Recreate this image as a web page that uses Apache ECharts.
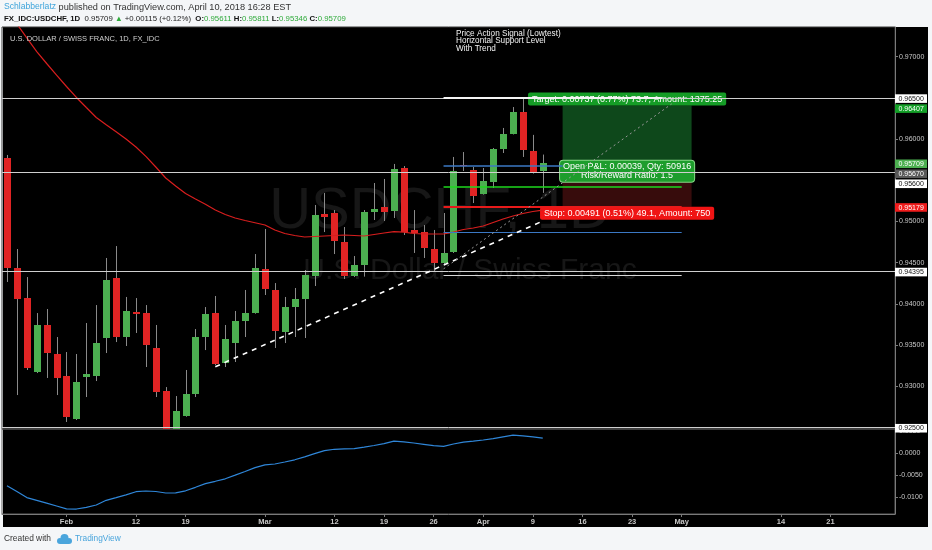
<!DOCTYPE html>
<html><head><meta charset="utf-8">
<script src="https://cdn.jsdelivr.net/npm/echarts@6/dist/echarts.min.js"></script>
<style>
html,body{margin:0;padding:0;background:#f4f6f8;}
#wrap{position:relative;width:932px;height:550px;overflow:hidden;}
#panel{position:absolute;left:3px;top:27px;width:925px;height:500px;background:#000;}
#c{position:absolute;left:0;top:0;width:932px;height:550px;}
</style>
</head><body><div id="wrap"><div id="panel"></div><div id="c"></div></div>
<script>
// ---------- data ----------
const dates = ['01-24','01-25','01-26','01-29','01-30','01-31',
'02-01','02-02','02-05','02-06','02-07','02-08','02-09','02-12','02-13','02-14','02-15','02-16','02-19','02-20','02-21','02-22','02-23','02-26','02-27','02-28',
'03-01','03-02','03-05','03-06','03-07','03-08','03-09','03-12','03-13','03-14','03-15','03-16','03-19','03-20','03-21','03-22','03-23','03-26','03-27','03-28','03-29','03-30',
'04-02','04-03','04-04','04-05','04-06','04-09','04-10','04-11','04-12','04-13','04-16','04-17','04-18','04-19','04-20','04-23','04-24','04-25','04-26','04-27','04-30',
'05-01','05-02','05-03','05-04','05-07','05-08','05-09','05-10','05-11','05-14','05-15','05-16','05-17','05-18','05-21','05-22','05-23','05-24','05-25','05-28','05-29'];

const openP = [0.95769,0.94434,0.94070,0.93172,0.93743,0.93391,0.93124,0.92602,0.93112,0.93124,
0.93585,0.94313,0.93597,0.93900,0.93888,0.93464,0.92942,0.92150,0.92638,0.92905,
0.93597,0.93888,0.93282,0.93524,0.93791,0.93888,0.94422,0.94168,0.93658,0.93961,
0.94058,0.94337,0.95090,0.95102,0.94750,0.94337,0.94471,0.95114,0.95175,0.95126,
0.95648,0.94896,0.94871,0.94665,0.94495,0.94629,0.95685,0.95624,0.95333,0.95478,
0.95879,0.96061,0.96328,0.95854,0.95611];
const closeP = [0.94434,0.94058,0.93221,0.93743,0.93403,0.93100,0.92626,0.93051,0.93148,0.93524,
0.94289,0.93597,0.93913,0.93876,0.93500,0.92930,0.92150,0.92699,0.92905,0.93597,
0.93876,0.93269,0.93573,0.93791,0.93888,0.94434,0.94180,0.93670,0.93961,0.94058,
0.94350,0.95078,0.95053,0.94762,0.94337,0.94471,0.95114,0.95151,0.95114,0.95636,
0.94871,0.94859,0.94677,0.94495,0.94617,0.95612,0.95672,0.95308,0.95490,0.95879,
0.96061,0.96328,0.95867,0.95594,0.95709];
const lowP = [0.94265,0.92893,0.93197,0.93160,0.93100,0.92893,0.92566,0.92590,0.92869,0.93063,
0.93403,0.93536,0.93488,0.93646,0.93233,0.92869,0.91880,0.91960,0.92630,0.92869,
0.93439,0.93257,0.93233,0.93294,0.93597,0.93880,0.94107,0.93464,0.93524,0.93597,
0.93585,0.94216,0.94871,0.94604,0.94301,0.94325,0.94330,0.95017,0.95005,0.95041,
0.94835,0.94617,0.94556,0.94386,0.94471,0.94617,0.95612,0.95223,0.95325,0.95405,
0.95830,0.96055,0.95782,0.95580,0.95346];
const highP = [0.95806,0.94665,0.94325,0.93888,0.93937,0.93597,0.93415,0.93391,0.93767,0.93985,
0.94556,0.94701,0.94083,0.94070,0.93985,0.93743,0.92990,0.92881,0.93197,0.93694,
0.93961,0.94095,0.93743,0.93913,0.94168,0.94604,0.94908,0.94252,0.94083,0.94192,
0.94410,0.95199,0.95345,0.95138,0.94932,0.94580,0.95138,0.95466,0.95515,0.95697,
0.95672,0.95138,0.94956,0.94896,0.95102,0.95782,0.95842,0.95660,0.95648,0.95891,
0.96134,0.96388,0.96485,0.96050,0.95811];

const movingAvg = [0.97578,0.97396,0.97226,0.97060,0.96916,0.96774,0.96637,0.96504,0.96382,0.96261,
0.96174,0.96089,0.96000,0.95903,0.95789,0.95660,0.95527,0.95430,0.95339,0.95272,
0.95209,0.95138,0.95084,0.95041,0.95011,0.94984,0.94956,0.94896,0.94853,0.94829,
0.94811,0.94817,0.94823,0.94829,0.94835,0.94829,0.94823,0.94841,0.94859,0.94877,
0.94871,0.94853,0.94847,0.94847,0.94847,0.94871,0.94902,0.94920,0.94944,0.94987,
0.95029,0.95066,0.95096,0.95120,0.95138];

const oscillator = [-0.00743,-0.00878,-0.01016,-0.01080,-0.01144,-0.01209,-0.01275,-0.01278,-0.01239,-0.01186,
-0.01078,-0.01016,-0.00952,-0.00881,-0.00865,-0.00876,-0.00911,-0.00906,-0.00860,-0.00780,
-0.00695,-0.00642,-0.00585,-0.00502,-0.00417,-0.00330,-0.00264,-0.00245,-0.00200,-0.00149,
-0.00083,-0.00007,0.00062,0.00092,0.00099,0.00106,0.00142,0.00179,0.00220,0.00280,
0.00261,0.00236,0.00206,0.00177,0.00158,0.00213,0.00255,0.00278,0.00305,0.00337,
0.00378,0.00417,0.00399,0.00378,0.00346];

const tickDates  = ['02-01','02-12','02-19','03-01','03-12','03-19','03-26','04-02','04-09','04-16','04-23','04-30','05-14','05-21'];
const tickLabels = ['Feb','12','19','Mar','12','19','26','Apr','9','16','23','May','14','21'];
const priceTicks = [0.93,0.935,0.94,0.945,0.95,0.96,0.97];
const oscTicks = [0.005,0,-0.005,-0.01];

// drawings
const fullLevels = [0.965, 0.956, 0.94395, 0.925];
const entryLevel = 0.9567, targetLevel = 0.96407, stopLevel = 0.95179;
const greenLevel = 0.95421, blueLowLevel = 0.94863, whiteSegLevel = 0.9435;
const trendStart = ['02-22', 0.93237], trendEnd = ['04-10', 0.95005];
const dotStart = ['03-27', 0.94424], dotEnd = ['04-27', 0.96427];
const drawStart = '03-27', drawEnd = '04-30', entryEnd = '04-12', whiteTopEnd = '04-26';
const zoneStart = '04-12', zoneEnd = '05-01';
const axisMarkPrices = [0.965, 0.96407, 0.95709, 0.9567, 0.956, 0.95179, 0.94395, 0.925];
const axisMarkFill = ['#ffffff','#14a028','#4caf50','#595959','#ffffff','#f01c1c','#ffffff','#ffffff'];
const axisMarkInk  = ['#111','#fff','#fff','#fff','#111','#fff','#111','#111'];

const targetText = 'Target: 0.00737 (0.77%) 73.7, Amount: 1375.25';
const stopText = 'Stop: 0.00491 (0.51%) 49.1, Amount: 750';
const pnlText = 'Open P&L: 0.00039, Qty: 50916\nRisk/Reward Ratio: 1.5';

// ---------- chart ----------
const FONT = '"Liberation Sans", Arial, sans-serif';
const UP = '#4caf50', DOWN = '#e02424', WICK = '#8a8a8a';
const chart = echarts.init(document.getElementById('c'));
const candleData = openP.map((o,i)=>[i,o,closeP[i],lowP[i],highP[i]]);
const tickFn = (idx, val) => tickDates.indexOf(val) >= 0;

function renderCandle(params, api){
  const i = api.value(0), o = api.value(1), c = api.value(2), l = api.value(3), h = api.value(4);
  const pO = api.coord([i,o]), pC = api.coord([i,c]), pL = api.coord([i,l]), pH = api.coord([i,h]);
  const cx = Math.round(pO[0]);
  const top = Math.round(Math.min(pO[1],pC[1]));
  const bot = Math.round(Math.max(pO[1],pC[1]));
  return {type:'group', children:[
    {type:'line', shape:{x1:cx+0.5,y1:pH[1],x2:cx+0.5,y2:pL[1]}, style:{stroke:WICK,lineWidth:1}},
    {type:'rect', shape:{x:cx-3, y:top, width:7, height:Math.max(1,bot-top)}, style:{fill: c>=o?UP:DOWN}}
  ]};
}

function renderAxisMark(params, api){
  const k = params.dataIndex;
  let prev = -Infinity;
  for (let j=0;j<=k;j++){
    let y = api.coord([0, axisMarkPrices[j]])[1] + 0.8;
    if (y < prev + 10) y = prev + 10;
    prev = y;
  }
  const y = prev;
  const cs = params.coordSys;
  const x0 = cs.x + cs.width;
  return {type:'group', children:[
    {type:'rect', shape:{x:x0, y:y-4.3, width:32, height:8.6}, style:{fill:axisMarkFill[k]}},
    {type:'text', style:{x:x0+3.5, y:y+0.3, text:axisMarkPrices[k].toFixed(5), fill:axisMarkInk[k],
      fontSize:7, fontFamily:FONT, align:'left', verticalAlign:'middle'}}
  ]};
}

const ls = (color, width, type) => ({color, width, type: type||'solid', opacity:1});
const seg = (a, b, style) => [{coord:a, lineStyle:style}, {coord:b, lineStyle:style}];

const last = openP.length-1;
const chg = closeP[last]-closeP[last-1];
const header2 = '{b|FX_IDC:USDCHF, 1D}  ' + closeP[last].toFixed(5) + ' {g|\u25B2} +' + chg.toFixed(5) +
  ' (+' + (chg/closeP[last-1]*100).toFixed(2) + '%)  {b|O:}{g|' + openP[last].toFixed(5) + '} {b|H:}{g|' + highP[last].toFixed(5) +
  '} {b|L:}{g|' + lowP[last].toFixed(5) + '} {b|C:}{g|' + closeP[last].toFixed(5) + '}';

const option = {
  backgroundColor: 'transparent',
  animation: false,
  grid: [
    {left:2, width:893, top:27, height:402, show:true, borderColor:'#3a3a3a', borderWidth:1, backgroundColor:'transparent'},
    {left:2, width:893, top:429, height:85, show:true, borderColor:'#5e5e5e', borderWidth:1, backgroundColor:'transparent'}
  ],
  xAxis: [
    {type:'category', gridIndex:0, data:dates, boundaryGap:true, axisLine:{show:false, onZero:false}, axisTick:{show:false}, axisLabel:{show:false}, splitLine:{show:false}},
    {type:'category', gridIndex:1, data:dates, boundaryGap:true, position:'bottom',
      axisLine:{show:true, onZero:false, lineStyle:{color:'#7a7a7a'}},
      axisTick:{show:true, interval:tickFn, alignWithLabel:true, length:3, lineStyle:{color:'#7a7a7a'}},
      axisLabel:{interval:tickFn, formatter:(v)=>tickLabels[tickDates.indexOf(v)], color:'#c6c6c6', fontSize:7.5, fontWeight:'bold', fontFamily:FONT, margin:4},
      splitLine:{show:false}}
  ],
  yAxis: [
    {type:'value', gridIndex:0, position:'right', min:0.92481, max:0.97359, splitLine:{show:false},
      axisLine:{show:true, lineStyle:{color:'#7a7a7a'}},
      axisTick:{show:true, length:3, customValues:priceTicks, lineStyle:{color:'#7a7a7a'}},
      axisLabel:{customValues:priceTicks, formatter:(v)=>v.toFixed(5), color:'#c8c8c8', fontSize:7, fontFamily:FONT, margin:4}},
    {type:'value', gridIndex:1, position:'right', min:-0.01392, max:0.00557, splitLine:{show:false},
      axisLine:{show:true, lineStyle:{color:'#7a7a7a'}},
      axisTick:{show:true, length:3, customValues:oscTicks, lineStyle:{color:'#7a7a7a'}},
      axisLabel:{customValues:oscTicks, formatter:(v)=>v.toFixed(4), color:'#c8c8c8', fontSize:7, fontFamily:FONT, margin:4}}
  ],
  graphic: [
    {type:'text', x:440, y:212, z:0, silent:true, style:{text:'USDCHF, 1D', align:'center', verticalAlign:'middle', fill:'#171717', fontSize:58, fontFamily:FONT}},
    {type:'text', x:470, y:271, z:0, silent:true, style:{text:'U.S. Dollar / Swiss Franc', align:'center', verticalAlign:'middle', fill:'#171717', fontSize:30, fontFamily:FONT}},
    {type:'text', x:4, y:7, z:50, style:{text:'{a|Schlabberlatz} published on TradingView.com, April 10, 2018 16:28 EST', verticalAlign:'middle', fill:'#333', fontSize:9.2, fontFamily:FONT,
      rich:{a:{fill:'#3da4db', fontSize:8.6, fontFamily:FONT}}}},
    {type:'text', x:4, y:19, z:50, style:{text:header2, verticalAlign:'middle', fill:'#222', fontSize:7.8, fontFamily:FONT,
      rich:{b:{fill:'#111', fontWeight:'bold', fontSize:7.8, fontFamily:FONT}, g:{fill:'#2eaa3a', fontSize:7.8, fontFamily:FONT}}}},
    {type:'text', x:10, y:39, z:50, style:{text:'U.S. DOLLAR / SWISS FRANC, 1D, FX_IDC', verticalAlign:'middle', fill:'#cfcfcf', fontSize:7.5, fontFamily:FONT}},
    {type:'text', x:456, y:29.5, z:50, style:{text:'Price Action Signal (Lowtest)\nHorizontal Support Level\nWith Trend', verticalAlign:'top', fill:'#f2f2f2', fontSize:8.2, lineHeight:7.5, fontFamily:FONT}},
    {type:'text', x:4, y:539, z:50, style:{text:'Created with', verticalAlign:'middle', fill:'#333', fontSize:8.4, fontFamily:FONT}},
    {type:'circle', z:50, shape:{cx:60, cy:541, r:3}, style:{fill:'#4aa5dc'}},
    {type:'circle', z:50, shape:{cx:64.5, cy:538, r:4}, style:{fill:'#4aa5dc'}},
    {type:'circle', z:50, shape:{cx:69, cy:541, r:3}, style:{fill:'#4aa5dc'}},
    {type:'rect', z:50, shape:{x:60, y:540, width:9, height:4}, style:{fill:'#4aa5dc'}},
    {type:'text', x:75, y:539, z:50, style:{text:'TradingView', verticalAlign:'middle', fill:'#4aa5dc', fontSize:8.3, fontFamily:FONT}}
  ],
  series: [
    { // position zones
      type:'line', xAxisIndex:0, yAxisIndex:0, data:[], z:1, silent:true,
      markArea:{silent:true, label:{show:false}, data:[
        [{coord:[zoneStart, targetLevel], itemStyle:{color:'#0e481b'}}, {coord:[zoneEnd, entryLevel]}],
        [{coord:[zoneStart, entryLevel], itemStyle:{color:'#370c0c'}}, {coord:[zoneEnd, stopLevel]}]
      ]}
    },
    { // candles
      type:'custom', name:'USDCHF', xAxisIndex:0, yAxisIndex:0, z:2, clip:true, silent:true,
      renderItem:renderCandle, encode:{x:0, y:[1,2,3,4]}, data:candleData
    },
    { // moving average
      type:'line', xAxisIndex:0, yAxisIndex:0, z:3, data:movingAvg, symbol:'none', silent:true, clip:true,
      lineStyle:{color:'#d81e1e', width:1.2}
    },
    { // full width horizontal lines
      type:'line', xAxisIndex:0, yAxisIndex:0, data:[], z:4, silent:true,
      markLine:{silent:true, precision:6, symbol:['none','none'], label:{show:false}, emphasis:{disabled:true},
        data: fullLevels.map(v=>({yAxis:v, lineStyle:ls('#cfcfcf',1)}))}
    },
    { // position labels
      type:'line', xAxisIndex:0, yAxisIndex:0, data:[], z:5, silent:true,
      markArea:{silent:true, data:[
        [{coord:[zoneStart, targetLevel], itemStyle:{color:'transparent'},
          label:{show:true, position:'top', distance:0, formatter:targetText, color:'#fff', fontSize:9, fontFamily:FONT, lineHeight:10,
            backgroundColor:'#159c26', padding:[2,4,1,4], borderRadius:2}}, {coord:[zoneEnd, entryLevel]}],
        [{coord:[zoneStart, entryLevel], itemStyle:{color:'transparent'},
          label:{show:true, position:'bottom', distance:0, formatter:stopText, color:'#fff', fontSize:9, fontFamily:FONT, lineHeight:10,
            backgroundColor:'#f01414', padding:[2,4,1,4], borderRadius:2}}, {coord:[zoneEnd, stopLevel]}],
        [{coord:[zoneStart, entryLevel], itemStyle:{color:'transparent'},
          label:{show:true, position:'inside', offset:[0,5], formatter:pnlText, color:'#fff', fontSize:9, fontFamily:FONT, lineHeight:9.5, align:'center',
            backgroundColor:'#1d9d2c', borderColor:'#86d886', borderWidth:1, padding:[1,3,1,3], borderRadius:3}}, {coord:[zoneEnd, entryLevel]}]
      ]}
    },
    { // drawn segments
      type:'line', xAxisIndex:0, yAxisIndex:0, data:[], z:6, silent:true,
      markLine:{silent:true, precision:6, symbol:['none','none'], label:{show:false}, emphasis:{disabled:true}, data:[
        seg([drawStart, 0.965], [whiteTopEnd, 0.965], ls('#f4f4f4',2)),
        seg([drawStart, entryLevel], [entryEnd, entryLevel], ls('#3b78c4',1.5)),
        seg([drawStart, greenLevel], [drawEnd, greenLevel], ls('#1ed81e',1.5)),
        seg([drawStart, stopLevel], [drawEnd, stopLevel], ls('#e81a1a',2)),
        seg([drawStart, blueLowLevel], [drawEnd, blueLowLevel], ls('#3b78c4',1.2)),
        seg([drawStart, whiteSegLevel], [drawEnd, whiteSegLevel], ls('#d6d6d6',1)),
        seg(trendStart, trendEnd, ls('#ffffff',1.6,[5,5])),
        seg(dotStart, dotEnd, ls('#9a9a9a',1,[2,3]))
      ]}
    },
    { // oscillator
      type:'line', xAxisIndex:1, yAxisIndex:1, data:oscillator, symbol:'none', silent:true,
      lineStyle:{color:'#2f86d8', width:1.2}
    },
    { // right axis price markers
      type:'custom', xAxisIndex:0, yAxisIndex:0, z:20, clip:false, silent:true,
      renderItem:renderAxisMark, encode:{x:0, y:1}, data:axisMarkPrices.map(p=>[0,p])
    }
  ]
};
chart.setOption(option);
</script>
</body></html>
